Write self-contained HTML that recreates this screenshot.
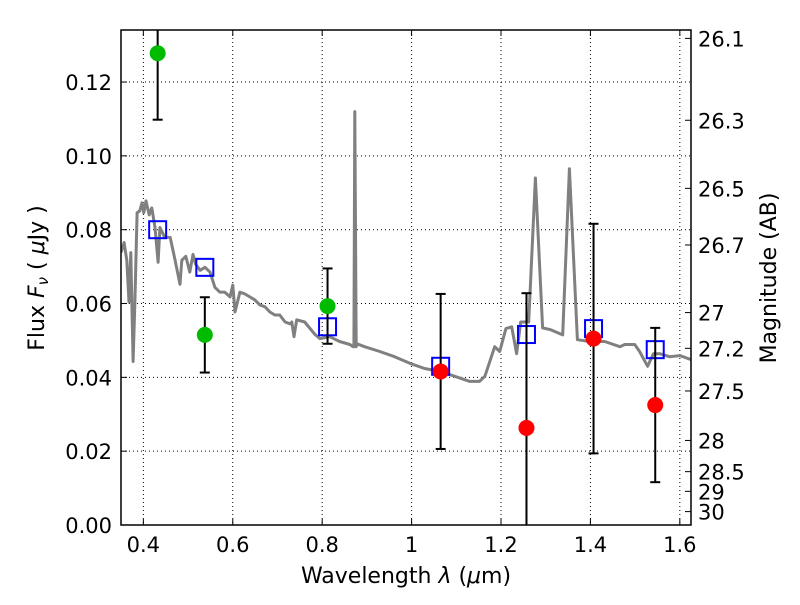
<!DOCTYPE html>
<html><head><meta charset="utf-8"><style>
body{margin:0;background:#fff}
svg text{font-family:"DejaVu Sans","Liberation Sans",sans-serif;fill:#000}
</style></head><body>
<svg id="c" width="800" height="600" viewBox="0 0 800 600"></svg>
<script>
const specLam=[0.350,0.357,0.363,0.368,0.372,0.377,0.381,0.386,0.392,0.397,0.401,0.406,0.413,0.419,0.426,0.433,0.437,0.448,0.460,0.471,0.482,0.486,0.495,0.504,0.511,0.517,0.527,0.538,0.549,0.560,0.571,0.582,0.594,0.600,0.605,0.616,0.627,0.638,0.649,0.661,0.672,0.683,0.694,0.705,0.717,0.728,0.732,0.737,0.743,0.761,0.784,0.790,0.795,0.817,0.839,0.862,0.869,0.871,0.873,0.876,0.878,0.895,0.929,0.962,0.996,1.029,1.063,1.096,1.130,1.152,1.164,1.175,1.186,1.197,1.211,1.224,1.235,1.244,1.257,1.262,1.277,1.293,1.311,1.338,1.353,1.371,1.398,1.432,1.466,1.477,1.499,1.510,1.528,1.541,1.555,1.577,1.600,1.625];
const specFlux=[0.0738,0.0765,0.0717,0.0604,0.0738,0.0443,0.0604,0.0846,0.0851,0.0873,0.0846,0.0878,0.0840,0.0859,0.0806,0.0712,0.0806,0.0779,0.0779,0.0717,0.0652,0.0717,0.0728,0.0685,0.0733,0.0706,0.0690,0.0698,0.0685,0.0644,0.0631,0.0631,0.0618,0.0650,0.0577,0.0631,0.0626,0.0618,0.0610,0.0596,0.0591,0.0577,0.0569,0.0569,0.0550,0.0545,0.0550,0.0510,0.0556,0.0550,0.0516,0.0510,0.0505,0.0510,0.0497,0.0489,0.0483,0.0483,0.1120,0.0483,0.0491,0.0483,0.0470,0.0456,0.0438,0.0424,0.0416,0.0403,0.0389,0.0389,0.0403,0.0443,0.0483,0.0470,0.0532,0.0537,0.0464,0.0550,0.0550,0.0550,0.0940,0.0534,0.0529,0.0515,0.0965,0.0502,0.0497,0.0497,0.0483,0.0489,0.0489,0.0470,0.0430,0.0464,0.0464,0.0456,0.0459,0.0448];
const greenLam=[0.432,0.5375,0.812];
const greenFlux=[0.1278,0.0515,0.0593];
const greenErr=[0.018,0.0102,0.0102];
const redLam=[1.065,1.257,1.407,1.545];
const redFlux=[0.0416,0.0263,0.0505,0.0325];
const redErr=[0.021,0.0365,0.0311,0.0209];
const modelLam=[0.432,0.5375,0.812,1.065,1.257,1.407,1.545];
const modelFlux=[0.0800,0.0698,0.0537,0.0430,0.0516,0.0532,0.0475];
const xTicks=[0.4,0.6,0.8,1.0,1.2,1.4,1.6];
const xTickLabels=["0.4","0.6","0.8","1","1.2","1.4","1.6"];
const yTicks=[0,0.02,0.04,0.06,0.08,0.10,0.12];
const yTickLabels=["0.00","0.02","0.04","0.06","0.08","0.10","0.12"];
const magTicks=[26.1,26.3,26.5,26.7,27,27.2,27.5,28,28.5,29,30];
const magTickLabels=["26.1","26.3","26.5","26.7","27","27.2","27.5","28","28.5","29","30"];

const L=121,R=691,T=30,B=525,xmin=0.35,xmax=1.625,ymin=0,ymax=0.1341;
const X=v=>L+(v-xmin)/(xmax-xmin)*(R-L);
const Y=v=>B-(v-ymin)/(ymax-ymin)*(B-T);
const NS="http://www.w3.org/2000/svg";
const svg=document.getElementById('c');
function mk(t,a,p){const e=document.createElementNS(NS,t);for(const k in a)e.setAttribute(k,a[k]);(p||svg).appendChild(e);return e;}
const clip=mk('clipPath',{id:'pc'});mk('rect',{x:L,y:T,width:R-L,height:B-T},clip);
const grid=mk('g',{});
xTicks.forEach(v=>mk('line',{x1:X(v),x2:X(v),y1:T,y2:B,stroke:'#000','stroke-width':1,'stroke-dasharray':'1,3'},grid));
yTicks.forEach(v=>mk('line',{x1:L,x2:R,y1:Y(v),y2:Y(v),stroke:'#000','stroke-width':1,'stroke-dasharray':'1,3'},grid));
const plot=mk('g',{'clip-path':'url(#pc)'});
let d=specLam.map((l,i)=>(i?'L':'M')+X(l).toFixed(1)+','+Y(specFlux[i]).toFixed(1)).join('');
const sp=mk('path',{d:d,fill:'none',stroke:'#808080','stroke-width':3,'stroke-linejoin':'round'},plot);

modelLam.forEach((l,i)=>{const r=mk('rect',{x:X(l)-8.5,y:Y(modelFlux[i])-8.5,width:17,height:17,fill:'none',stroke:'#0000ff','stroke-width':2},plot);
});
function pts(lam,fl,er,col,name){lam.forEach((l,i)=>{const g=mk('g',{},plot);

const x=X(l),y1=Y(fl[i]+er[i]),y2=Y(fl[i]-er[i]);
mk('line',{x1:x,x2:x,y1:y1,y2:y2,stroke:'#000','stroke-width':2},g);
mk('line',{x1:x-5,x2:x+5,y1:y1,y2:y1,stroke:'#000','stroke-width':2},g);
mk('line',{x1:x-5,x2:x+5,y1:y2,y2:y2,stroke:'#000','stroke-width':2},g);
mk('circle',{cx:x,cy:Y(fl[i]),r:8,fill:col},g);});}
pts(greenLam,greenFlux,greenErr,'#00bb00','observed-point-green');
pts(redLam,redFlux,redErr,'#ff0000','observed-point-red');
const fr=mk('rect',{x:L,y:T,width:R-L,height:B-T,fill:'none',stroke:'#000','stroke-width':1.5});

xTicks.forEach((v,i)=>{mk('line',{x1:X(v),x2:X(v),y1:B,y2:B-6,stroke:'#000'});mk('line',{x1:X(v),x2:X(v),y1:T,y2:T+6,stroke:'#000'});
const t=mk('text',{x:X(v),y:B+27,'font-size':21,'text-anchor':'middle'});t.textContent=xTickLabels[i];
});
yTicks.forEach((v,i)=>{mk('line',{x1:L,x2:L+6,y1:Y(v),y2:Y(v),stroke:'#000'});
const t=mk('text',{x:L-9,y:Y(v)+8,'font-size':21,'text-anchor':'end'});t.textContent=yTickLabels[i];
});
magTicks.forEach((m,i)=>{const y=Y(Math.pow(10,(23.9-m)/2.5));mk('line',{x1:R,x2:R-6,y1:y,y2:y,stroke:'#000'});
const t=mk('text',{x:R+7,y:y+8,'font-size':21});t.textContent=magTickLabels[i];
});
</script>
<svg width="800" height="600" style="position:absolute;left:0;top:0">
<text x="406" y="583" font-size="22" text-anchor="middle">Wavelength  <tspan font-style="italic">λ</tspan> (<tspan font-style="italic">μ</tspan>m)</text>
<text transform="translate(44,278) rotate(-90)" font-size="22" text-anchor="middle">Flux  <tspan font-style="italic">F</tspan><tspan font-style="italic" font-size="15" dy="4">ν</tspan><tspan dy="-4">  (  </tspan><tspan font-style="italic">μ</tspan>Jy )</text>
<text transform="translate(776,278) rotate(-90)" font-size="22" text-anchor="middle">Magnitude (AB)</text>
</svg>
</body></html>
